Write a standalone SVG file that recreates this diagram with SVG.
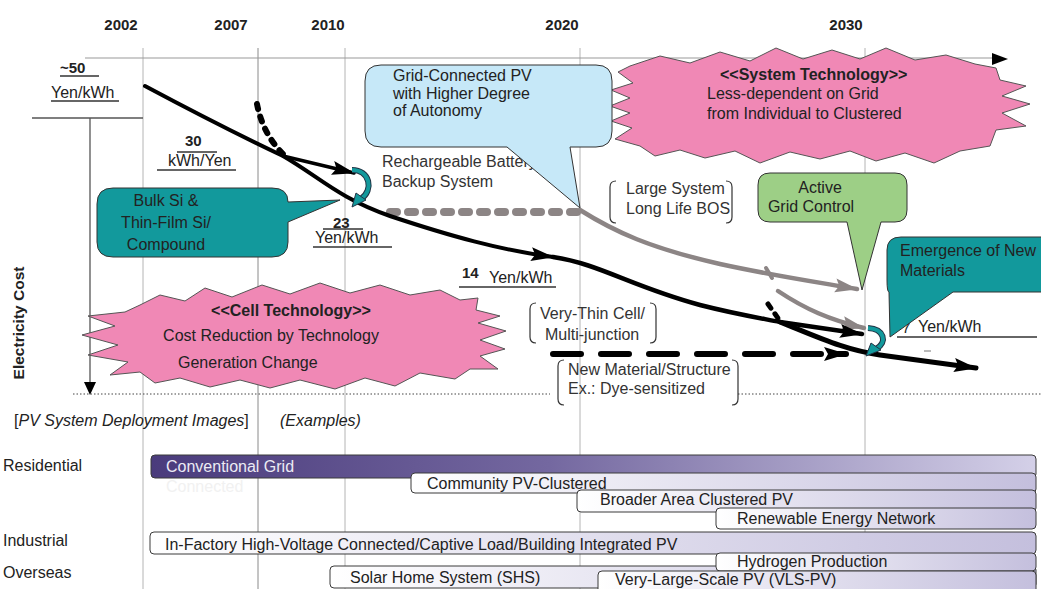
<svg xmlns="http://www.w3.org/2000/svg" width="1041" height="589" viewBox="0 0 1041 589">
<style>
text{font-family:"Liberation Sans",Arial,sans-serif;font-size:16px;fill:#222}
.yr{font-size:15px;font-weight:bold;fill:#222}
.b{font-weight:bold}
.g{fill:#333}
.grid{stroke:#b4b4b4;stroke-width:1;fill:none}
.burst{fill:#f088b5;stroke:#555;stroke-width:1}
.teal{fill:#12999c;stroke:#333;stroke-width:1}
.brk{fill:none;stroke:#333;stroke-width:1.2}
.ul{stroke:#333;stroke-width:1.3}
.bar{stroke:#3a3a3a;stroke-width:1;fill:url(#lg)}
.blk{fill:none;stroke:#000;stroke-linecap:round}
.gry{fill:none;stroke:#8c8585;stroke-linecap:round}
</style>
<defs>
<linearGradient id="dg" x1="0" y1="0" x2="1" y2="0">
<stop offset="0" stop-color="#4a3b7c"/><stop offset="0.45" stop-color="#7468a0"/><stop offset="1" stop-color="#d4d0e8"/>
</linearGradient>
<linearGradient id="lg" x1="0" y1="0" x2="1" y2="0">
<stop offset="0" stop-color="#ffffff"/><stop offset="1" stop-color="#c4bfdd"/>
</linearGradient>
<marker id="ab" markerUnits="userSpaceOnUse" markerWidth="24" markerHeight="16" refX="22" refY="8" orient="auto"><path d="M0,1 L23,8 L0,15 L4,8 Z" fill="#000"/></marker>
<marker id="ag" markerUnits="userSpaceOnUse" markerWidth="24" markerHeight="16" refX="22" refY="8" orient="auto"><path d="M0,1 L23,8 L0,15 L4,8 Z" fill="#8c8585"/></marker>
</defs>

<g id="grid">
<line class="grid" x1="143" y1="48" x2="143" y2="589"/>
<line class="grid" x1="258" y1="48" x2="258" y2="589" style="stroke:#8a8a8a"/>
<line class="grid" x1="345" y1="48" x2="345" y2="589"/>
<line class="grid" x1="580" y1="48" x2="580" y2="589"/>
<line class="grid" x1="865" y1="48" x2="865" y2="589"/>
<line x1="85" y1="58" x2="996" y2="58" stroke="#999" stroke-width="1.2"/>
<polygon points="992,53 1008,59 992,65" fill="#000"/>
<line x1="32" y1="118" x2="143" y2="118" stroke="#555" stroke-width="1.3"/>
<line x1="90" y1="118" x2="90" y2="384" stroke="#555" stroke-width="1.3"/>
<polygon points="84,382 96,382 90,395" fill="#000"/>
<line x1="73" y1="394" x2="550" y2="394" stroke="#444" stroke-width="1" stroke-dasharray="1.5 2"/>
<line x1="738" y1="394" x2="1041" y2="394" stroke="#444" stroke-width="1" stroke-dasharray="1.5 2"/>
<text class="yr" x="121" y="30" text-anchor="middle">2002</text>
<text class="yr" x="231" y="30" text-anchor="middle">2007</text>
<text class="yr" x="328" y="30" text-anchor="middle">2010</text>
<text class="yr" x="562" y="30" text-anchor="middle">2020</text>
<text class="yr" x="846" y="30" text-anchor="middle">2030</text>
<text class="b" x="24" y="323" text-anchor="middle" transform="rotate(-90 24 323)" style="font-size:15.5px">Electricity Cost</text>
</g>

<g id="labels">
<text class="b" x="60" y="73" style="font-size:15px">~50</text>
<line class="ul" x1="60" y1="76" x2="99" y2="76"/>
<text x="51" y="98">Yen/kWh</text>
<line class="ul" x1="51" y1="101" x2="119" y2="101"/>
<text class="b" x="185" y="146" style="font-size:15px">30</text>
<line class="ul" x1="177" y1="152" x2="217" y2="152"/>
<text x="168" y="166">kWh/Yen</text>
<line class="ul" x1="157" y1="170" x2="236" y2="170"/>
<text class="b" x="333" y="228" style="font-size:15px">23</text>
<line class="ul" x1="323" y1="229" x2="363" y2="229"/>
<text x="315" y="243">Yen/kWh</text>
<line class="ul" x1="313" y1="247" x2="392" y2="247"/>
<text class="b" x="462" y="278" style="font-size:15px">14</text>
<text x="489" y="283">Yen/kWh</text>
<line class="ul" x1="459" y1="287" x2="556" y2="287"/>
<text x="902" y="333" style="font-size:15px">7</text>
<text x="918" y="332">Yen/kWh</text>
<line class="ul" x1="897" y1="337" x2="1037" y2="337"/>
<line x1="924" y1="351" x2="931" y2="351" stroke="#777" stroke-width="1"/>
<text class="g" x="382" y="167">Rechargeable Battery</text>
<text class="g" x="382" y="187">Backup System</text>
</g>

<g id="bracket-large">
<path class="brk" d="M616,181 Q610,181 610,187 V217 Q610,223 616,223"/>
<path class="brk" d="M726,181 Q732,181 732,187 V217 Q732,223 726,223"/>
<text class="g" x="626" y="194">Large System</text>
<text class="g" x="626" y="214">Long Life BOS</text>
</g>
<g id="bracket-thin">
<path class="brk" d="M536,303 Q530,303 530,309 V337 Q530,343 536,343"/>
<path class="brk" d="M650,303 Q656,303 656,309 V337 Q656,343 650,343"/>
<text class="g" x="540" y="319">Very-Thin Cell/</text>
<text class="g" x="545" y="340">Multi-junction</text>
</g>
<g id="bracket-new">
<path class="brk" d="M564,360 Q558,360 558,366 V399 Q558,405 564,405"/>
<path class="brk" d="M732,360 Q738,360 738,366 V399 Q738,405 732,405"/>
<text class="g" x="568" y="375">New Material/Structure</text>
<text class="g" x="568" y="394">Ex.: Dye-sensitized</text>
</g>

<g id="system-technology">
<polygon class="burst" points="630,66 660,56 690,63 720,52 750,61 776,48 803,59 832,50 860,59 886,48 915,60 946,55 975,64 996,68 1000,80 1026,86 1002,96 1030,104 1002,113 1026,126 996,130 990,146 960,151 934,163 905,153 876,161 850,151 820,159 790,152 760,163 735,151 705,158 680,150 655,156 640,146 615,139 632,128 611,121 630,113 610,106 630,98 611,90 633,83 618,72"/>
<text class="b" x="720" y="80">&lt;&lt;System Technology&gt;&gt;</text>
<text x="707" y="99">Less-dependent on Grid</text>
<text x="707" y="119">from Individual to Clustered</text>
</g>

<g id="cell-technology">
<polygon class="burst" points="140,305 160,295 185,301 205,288 232,297 262,285 290,294 320,283 350,293 380,285 410,295 440,290 460,300 478,298 476,310 500,316 478,323 506,331 480,340 505,349 480,356 498,369 470,369 455,379 420,373 395,386 365,378 335,389 300,380 270,388 240,380 210,387 180,378 155,383 140,372 110,375 128,362 88,355 118,345 82,335 115,326 88,316 125,312"/>
<text class="b" x="291" y="316" text-anchor="middle">&lt;&lt;Cell Technology&gt;&gt;</text>
<text x="271" y="341" text-anchor="middle">Cost Reduction by Technology</text>
<text x="178" y="368">Generation Change</text>
</g>

<g id="callout-bulk">
<path class="teal" d="M113,188 H272 Q288,188 288,202 L340,200 L288,222 V242 Q288,257 272,257 H113 Q97,257 97,242 V204 Q97,188 113,188 Z"/>
<text x="166" y="206" text-anchor="middle">Bulk Si &amp;</text>
<text x="166" y="228" text-anchor="middle">Thin-Film Si/</text>
<text x="166" y="250" text-anchor="middle">Compound</text>
</g>

<g id="callout-autonomy">
<path d="M381,65 H596 Q612,65 612,81 V131 Q612,147 596,147 H570 L580,208 L507,147 H381 Q365,147 365,131 V81 Q365,65 381,65 Z" fill="#c6e8f8" stroke="#333" stroke-width="1"/>
<text x="393" y="81">Grid-Connected PV</text>
<text x="393" y="99">with Higher Degree</text>
<text x="393" y="116"> of Autonomy</text>
</g>

<g id="callout-active">
<path d="M770,173 H895 Q907,173 907,185 V210 Q907,222 895,222 H881 L862,290 L847,222 H770 Q758,222 758,210 V185 Q758,173 770,173 Z" fill="#9dcf86" stroke="#333" stroke-width="1"/>
<text x="820" y="193" text-anchor="middle">Active</text>
<text x="811" y="212" text-anchor="middle">Grid Control</text>
</g>

<g id="callout-emergence">
<path class="teal" d="M901,237 H1046 V292 H953 L890,337 L889,292 Q887,292 887,280 V250 Q887,237 901,237 Z"/>
<text x="900" y="256">Emergence of New</text>
<text x="900" y="276">Materials</text>
</g>

<g id="connectors">
<path class="gry" d="M390,212 H578" stroke-width="8" stroke-dasharray="7 11" stroke-linecap="butt"/>
<path class="gry" d="M580,210 C615,232 650,248 720,264 C770,275 810,281 857,289" stroke-width="4.5" marker-end="url(#ag)"/>
<path class="gry" d="M766,268 L772,278" stroke-width="4"/>
<path class="gry" d="M778,291 C805,309 830,320 864,328" stroke-width="4.5" marker-end="url(#ag)"/>
<path class="blk" d="M257,104 Q263,135 285,156" stroke-width="6" stroke-dasharray="5 8" stroke-linecap="butt"/>
<path class="blk" d="M145,86 C205,118 245,138 283,156 C318,176 338,198 390,216 C450,236 500,250 553,257" stroke-width="4" marker-end="url(#ab)"/>
<path class="blk" d="M283,156 L354,173" stroke-width="3.5" marker-end="url(#ab)"/>
<path class="blk" d="M553,257 C600,264 630,286 700,305 C735,314 760,318 780,322 L862,334" stroke-width="4.5" marker-end="url(#ab)"/>
<path class="blk" d="M780,322 C820,338 845,350 880,355 L976,368" stroke-width="5" marker-end="url(#ab)"/>
<path class="blk" d="M768,304 L780,321" stroke-width="5" stroke-dasharray="5 7" stroke-linecap="butt"/>
<path class="blk" d="M553,354 H842" stroke-width="6" stroke-dasharray="28 20" stroke-linecap="butt"/>
<path class="blk" d="M838,354 H846" stroke-width="6" marker-end="url(#ab)"/>
<path d="M352,170 C370,170 374,190 361,199" fill="none" stroke="#234" stroke-width="6"/>
<path d="M352,170 C370,170 374,190 361,199" fill="none" stroke="#12999c" stroke-width="4"/>
<polygon points="356,193 366,200 352,207" fill="#12999c" stroke="#234" stroke-width="1"/>
<path d="M868,328 C884,329 888,342 876,349" fill="none" stroke="#234" stroke-width="6"/>
<path d="M868,328 C884,329 888,342 876,349" fill="none" stroke="#12999c" stroke-width="4"/>
<polygon points="871,343 881,350 866,356" fill="#12999c" stroke="#234" stroke-width="1"/>
</g>

<g id="deployment">
<text x="14" y="426">[<tspan style="font-style:italic">PV System Deployment Images</tspan>]</text>
<text x="280" y="426" style="font-style:italic">(Examples)</text>
<text x="3" y="471">Residential</text>
<text x="3" y="546">Industrial</text>
<text x="3" y="578">Overseas</text>
</g>

<g id="bar-conventional">
<rect x="151" y="455" width="885" height="23" rx="4" fill="url(#dg)" stroke="#3a3a3a" stroke-width="1"/>
<text x="166" y="472" style="fill:#ecebf4">Conventional Grid</text>
<text x="166" y="492" style="fill:#f1f1f1">Connected</text>
</g>
<g id="bar-community">
<rect class="bar" x="411" y="473" width="625" height="20" rx="4"/>
<text x="427" y="489">Community PV-Clustered</text>
</g>
<g id="bar-broader">
<rect class="bar" x="577" y="490" width="459" height="22" rx="4"/>
<text x="600" y="505">Broader Area Clustered PV</text>
</g>
<g id="bar-renewable">
<rect class="bar" x="716" y="508" width="320" height="21" rx="4"/>
<text x="737" y="524">Renewable Energy Network</text>
</g>
<g id="bar-infactory">
<rect class="bar" x="150" y="532" width="886" height="22" rx="4"/>
<text x="165" y="550">In-Factory High-Voltage Connected/Captive Load/Building Integrated PV</text>
</g>
<g id="bar-shs">
<rect class="bar" x="330" y="566" width="706" height="22" rx="4"/>
<text x="350" y="583">Solar Home System (SHS)</text>
</g>
<g id="bar-hydrogen">
<rect class="bar" x="716" y="553" width="320" height="18" rx="4"/>
<text x="737" y="567">Hydrogen Production</text>
</g>
<g id="bar-vls">
<rect class="bar" x="598" y="571" width="438" height="24" rx="4"/>
<text x="615" y="585">Very-Large-Scale PV (VLS-PV)</text>
</g>
</svg>
